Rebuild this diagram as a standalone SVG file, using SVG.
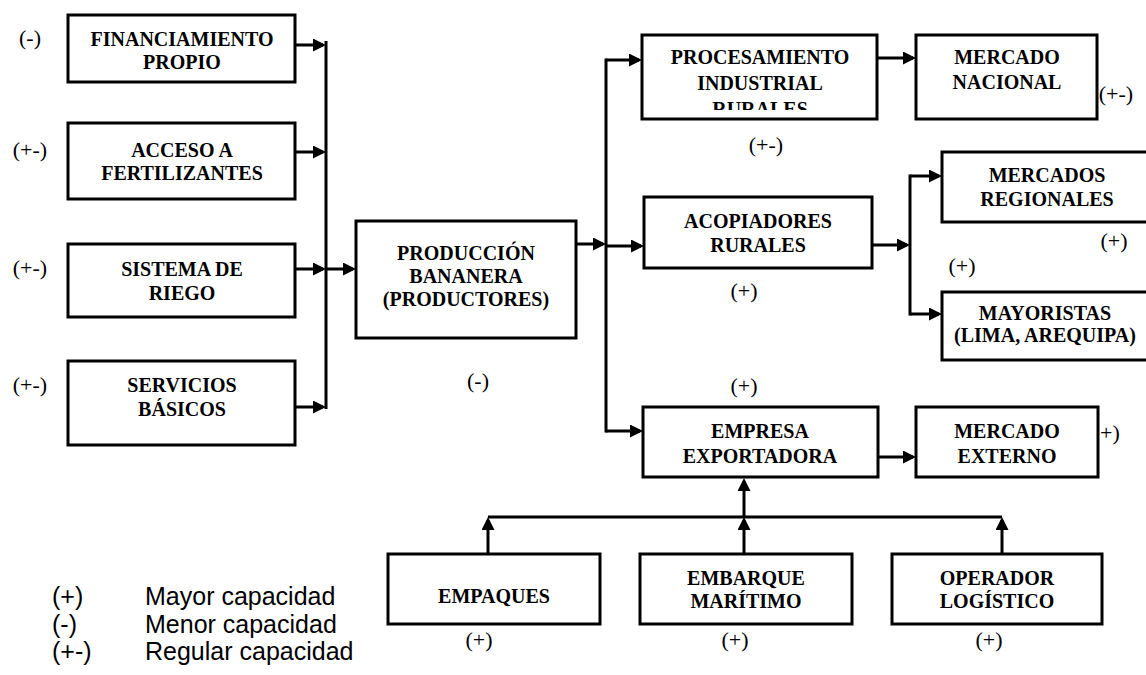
<svg xmlns="http://www.w3.org/2000/svg" width="1146" height="675" viewBox="0 0 1146 675">
  <style>
    .box { fill: #fff; stroke: #000; stroke-width: 3; }
    .t { font-family: "Liberation Serif", "Times New Roman", serif; font-weight: bold; font-size: 20px; text-anchor: middle; fill: #000; }
    .lab { font-family: "Liberation Serif", "Times New Roman", serif; font-size: 22px; text-anchor: middle; fill: #000; }
    .leg { font-family: "Liberation Sans", Arial, sans-serif; font-size: 25px; fill: #000; }
    .wire { fill: none; stroke: #000; stroke-width: 3; }
    .arr { fill: none; stroke: #000; stroke-width: 3; marker-end: url(#head); }
  </style>
  <defs>
    <marker id="head" markerUnits="userSpaceOnUse" markerWidth="14" markerHeight="14" refX="10" refY="6.5" orient="auto">
      <path d="M0,0 L13,6.5 L0,13 z" fill="#000"/>
    </marker>
    <clipPath id="procClip">
      <rect x="640" y="35" width="240" height="75"/>
    </clipPath>
  </defs>

  <rect width="1146" height="675" fill="#fff"/>

  <!-- connectors -->
  <g id="connectors">
    <!-- inputs bus -->
    <path class="wire" d="M326,41 V409"/>
    <path class="arr" d="M296,45 H323"/>
    <path class="arr" d="M296,152 H323"/>
    <path class="arr" d="M296,269 H323"/>
    <path class="arr" d="M296,407 H323"/>
    <path class="arr" d="M326,269 H353"/>
    <!-- distribution bus -->
    <path class="arr" d="M576,244 H603"/>
    <path class="wire" d="M606,58.5 V432.5"/>
    <path class="arr" d="M606,60 H639"/>
    <path class="arr" d="M606,246 H641"/>
    <path class="arr" d="M606,431 H640"/>
    <path class="arr" d="M878,58 H913"/>
    <!-- regional bus -->
    <path class="arr" d="M872,245 H907"/>
    <path class="wire" d="M910,174.5 V315.5"/>
    <path class="arr" d="M910,176 H939"/>
    <path class="arr" d="M910,314 H939"/>
    <path class="arr" d="M878,457 H913"/>
    <!-- support services bus -->
    <path class="wire" d="M488,517 H1002"/>
    <path class="arr" d="M488,554 V520"/>
    <path class="arr" d="M744,554 V520"/>
    <path class="arr" d="M1002,554 V520"/>
    <path class="arr" d="M744,517 V481"/>
  </g>

  <!-- input factors -->
  <g id="financiamiento">
    <rect class="box" x="68" y="15" width="227" height="67"/>
    <text class="t" x="182" y="46">FINANCIAMIENTO</text>
    <text class="t" x="182" y="69">PROPIO</text>
    <text class="lab" x="30" y="45">(-)</text>
  </g>
  <g id="fertilizantes">
    <rect class="box" x="68" y="123" width="227" height="76"/>
    <text class="t" x="182" y="157">ACCESO A</text>
    <text class="t" x="182" y="180">FERTILIZANTES</text>
    <text class="lab" x="30" y="157">(+-)</text>
  </g>
  <g id="riego">
    <rect class="box" x="68" y="244" width="227" height="73"/>
    <text class="t" x="182" y="276">SISTEMA DE</text>
    <text class="t" x="182" y="300">RIEGO</text>
    <text class="lab" x="30" y="275">(+-)</text>
  </g>
  <g id="servicios">
    <rect class="box" x="68" y="361" width="227" height="84"/>
    <text class="t" x="182" y="392">SERVICIOS</text>
    <text class="t" x="182" y="416">BÁSICOS</text>
    <text class="lab" x="30" y="392">(+-)</text>
  </g>

  <!-- production -->
  <g id="produccion">
    <rect class="box" x="356" y="221" width="220" height="117"/>
    <text class="t" x="466" y="260">PRODUCCIÓN</text>
    <text class="t" x="466" y="283">BANANERA</text>
    <text class="t" x="466" y="306">(PRODUCTORES)</text>
    <text class="lab" x="478" y="388">(-)</text>
  </g>

  <!-- channels -->
  <g id="procesamiento">
    <rect class="box" x="642" y="35" width="235" height="84"/>
    <text class="t" x="760" y="64">PROCESAMIENTO</text>
    <text class="t" x="760" y="90">INDUSTRIAL</text>
    <text class="t" x="760" y="116" clip-path="url(#procClip)">RURALES</text>
    <text class="lab" x="766" y="152">(+-)</text>
  </g>
  <g id="mercado-nacional">
    <rect class="box" x="916" y="35" width="181" height="84"/>
    <text class="t" x="1007" y="64">MERCADO</text>
    <text class="t" x="1007" y="89">NACIONAL</text>
    <text class="lab" x="1116" y="101">(+-)</text>
  </g>
  <g id="acopiadores">
    <rect class="box" x="644" y="197" width="228" height="71"/>
    <text class="t" x="758" y="228">ACOPIADORES</text>
    <text class="t" x="758" y="252">RURALES</text>
    <text class="lab" x="744" y="298">(+)</text>
  </g>
  <g id="mercados-regionales">
    <rect class="box" x="942" y="152" width="212" height="70"/>
    <text class="t" x="1047" y="182">MERCADOS</text>
    <text class="t" x="1047" y="206">REGIONALES</text>
    <text class="lab" x="1114" y="248">(+)</text>
  </g>
  <g id="mayoristas">
    <rect class="box" x="942" y="292" width="208" height="68"/>
    <text class="t" x="1045" y="320">MAYORISTAS</text>
    <text class="t" x="1045" y="342">(LIMA, AREQUIPA)</text>
    <text class="lab" x="962" y="273">(+)</text>
  </g>
  <g id="empresa-exportadora">
    <rect class="box" x="643" y="407" width="235" height="70"/>
    <text class="t" x="760" y="438">EMPRESA</text>
    <text class="t" x="760" y="463">EXPORTADORA</text>
    <text class="lab" x="744" y="393">(+)</text>
  </g>
  <g id="mercado-externo">
    <rect class="box" x="916" y="407" width="182" height="70"/>
    <text class="t" x="1007" y="438">MERCADO</text>
    <text class="t" x="1007" y="463">EXTERNO</text>
    <text class="lab" x="1100" y="440" style="text-anchor:start">+)</text>
  </g>

  <!-- support services -->
  <g id="empaques">
    <rect class="box" x="388" y="554" width="212" height="70"/>
    <text class="t" x="494" y="603">EMPAQUES</text>
    <text class="lab" x="479" y="647">(+)</text>
  </g>
  <g id="embarque">
    <rect class="box" x="640" y="554" width="212" height="70"/>
    <text class="t" x="746" y="585">EMBARQUE</text>
    <text class="t" x="746" y="608">MARÍTIMO</text>
    <text class="lab" x="735" y="647">(+)</text>
  </g>
  <g id="operador">
    <rect class="box" x="892" y="554" width="210" height="70"/>
    <text class="t" x="997" y="585">OPERADOR</text>
    <text class="t" x="997" y="608">LOGÍSTICO</text>
    <text class="lab" x="989" y="647">(+)</text>
  </g>

  <!-- legend -->
  <g id="legend">
    <text class="leg" x="52" y="605">(+)</text>
    <text class="leg" x="145" y="605">Mayor capacidad</text>
    <text class="leg" x="52" y="633">(-)</text>
    <text class="leg" x="145" y="633">Menor capacidad</text>
    <text class="leg" x="52" y="660">(+-)</text>
    <text class="leg" x="145" y="660">Regular capacidad</text>
  </g>
</svg>
